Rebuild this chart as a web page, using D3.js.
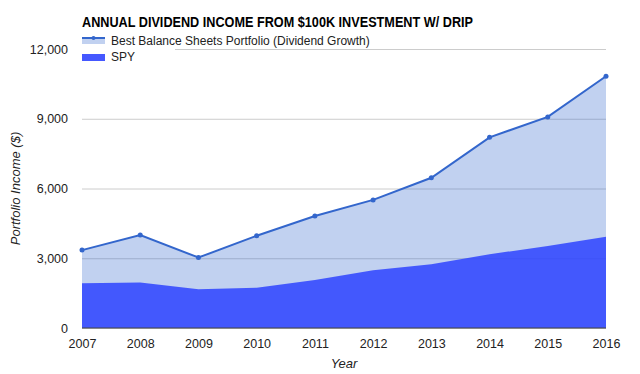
<!DOCTYPE html>
<html><head><meta charset="utf-8">
<script src="https://cdn.jsdelivr.net/npm/d3@7"></script>
<style>
body{margin:0;background:#fff;}
svg{display:block;font-family:"Liberation Sans",Arial,sans-serif;}
</style></head>
<body>
<svg id="c" width="640" height="374"></svg>
<script>
const years = [2007,2008,2009,2010,2011,2012,2013,2014,2015,2016];
const bestValues = [3350,4000,3030,3970,4820,5510,6460,8200,9080,10830];
const spyValues = [1930,1960,1670,1730,2060,2480,2740,3170,3530,3930];
const yTicks = [0,3000,6000,9000,12000];
const seriesNames = ["Best Balance Sheets Portfolio (Dividend Growth)","SPY"];
const titleText = "ANNUAL DIVIDEND INCOME FROM $100K INVESTMENT W/ DRIP";

const svg = d3.select("#c");
const L=82, R=606, T=49, B=328;
const x = d3.scaleLinear().domain([2007,2016]).range([L,R]);
const y = d3.scaleLinear().domain([0,12000]).range([B,T]);

// gridlines
const grid = svg.append("g").attr("transform",`translate(${L},0)`)
  .call(d3.axisLeft(y).tickValues(yTicks).tickSize(-(R-L)).tickFormat(""));
grid.select(".domain").remove();
grid.selectAll("line").attr("stroke","#cccccc").attr("stroke-width",1);

const data = years.map((yr,i)=>({yr,best:bestValues[i],spy:spyValues[i]}));

// best area
svg.append("path").datum(data)
  .attr("d", d3.area().x(d=>x(d.yr)).y0(y(0)).y1(d=>y(d.best)))
  .attr("fill","#3366cc").attr("fill-opacity",0.3);
// spy area
svg.append("path").datum(data)
  .attr("d", d3.area().x(d=>x(d.yr)).y0(y(0)).y1(d=>y(d.spy)))
  .attr("fill","#2f43ff").attr("fill-opacity",0.86);

// best line
svg.append("path").datum(data)
  .attr("d", d3.line().x(d=>x(d.yr)).y(d=>y(d.best)))
  .attr("fill","none").attr("stroke","#3366cc").attr("stroke-width",2);
svg.append("g").selectAll("circle").data(data).join("circle")
  .attr("cx",d=>x(d.yr)).attr("cy",d=>y(d.best)).attr("r",2.5).attr("fill","#3366cc");

// baseline
svg.append("line").attr("x1",L).attr("x2",R).attr("y1",y(0)).attr("y2",y(0))
  .attr("stroke","#444").attr("stroke-width",1);

// y axis labels
const ya = svg.append("g").attr("transform",`translate(${L},0)`)
  .call(d3.axisLeft(y).tickValues(yTicks).tickSize(0).tickPadding(14).tickFormat(d3.format(",")));
ya.select(".domain").remove();
ya.selectAll("text").attr("font-size",12.5).attr("fill","#222").attr("font-family","Liberation Sans, Arial, sans-serif");

// x axis labels
const xa = svg.append("g").attr("transform",`translate(0,${B})`)
  .call(d3.axisBottom(x).tickValues(years).tickSize(0).tickPadding(11).tickFormat(d3.format("d")));
xa.select(".domain").remove();
xa.selectAll("text").attr("font-size",12.5).attr("fill","#222").attr("font-family","Liberation Sans, Arial, sans-serif");

// axis titles
svg.append("text").attr("x",(L+R)/2).attr("y",368).attr("text-anchor","middle")
  .attr("font-size",13).attr("font-style","italic").attr("fill","#222").text("Year");
svg.append("text").attr("transform",`translate(20,${(T+B)/2}) rotate(-90)`).attr("text-anchor","middle")
  .attr("font-size",13).attr("font-style","italic").attr("fill","#222").text("Portfolio Income ($)");

// legend background (hides part of top gridline)
svg.append("rect").attr("x",L).attr("y",30).attr("width",93).attr("height",34).attr("fill","#fff");

// title
svg.append("text").attr("x",82).attr("y",26.5).attr("font-size",14).attr("font-weight","bold")
  .attr("fill","#000").attr("textLength",391).attr("lengthAdjust","spacingAndGlyphs").text(titleText);

// legend
const lg = svg.append("g");
lg.append("rect").attr("x",82).attr("y",37).attr("width",23).attr("height",7).attr("fill","#3366cc").attr("fill-opacity",0.3);
lg.append("line").attr("x1",82).attr("x2",105).attr("y1",38).attr("y2",38).attr("stroke","#3366cc").attr("stroke-width",2);
lg.append("circle").attr("cx",93.5).attr("cy",38).attr("r",2).attr("fill","#3366cc");
lg.append("text").attr("x",111).attr("y",45.3).attr("font-size",12).attr("fill","#222").text(seriesNames[0]);
lg.append("rect").attr("x",82).attr("y",54).attr("width",23).attr("height",7).attr("fill","#4558ff");
lg.append("text").attr("x",111).attr("y",61.3).attr("font-size",12).attr("fill","#222").text(seriesNames[1]);
</script>
</body></html>
